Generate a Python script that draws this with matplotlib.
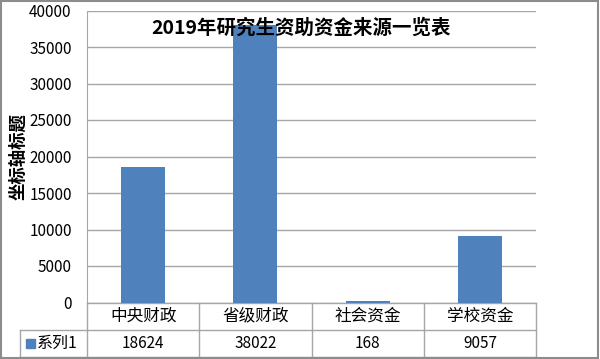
import matplotlib.pyplot as plt
from matplotlib.lines import Line2D
from matplotlib.patches import Rectangle

plt.rcParams['font.family'] = ['Noto Sans CJK SC', 'DejaVu Sans']

# 数据
categories = ['中央财政', '省级财政', '社会资金', '学校资金']
values = [18624, 38022, 168, 9057]
series_name = '系列1'
yticks = [0, 5000, 10000, 15000, 20000, 25000, 30000, 35000, 40000]

bar_color = '#4F81BD'
line_color = '#A6A6A6'

fig = plt.figure(figsize=(6, 3.59), dpi=100)
ax = fig.add_axes([87 / 600, 1 - 302.5 / 359, 449 / 600, 292 / 359])

x = range(len(categories))
ax.bar(x, values, width=0.39, color=bar_color, zorder=3)
ax.set_xlim(-0.5, len(categories) - 0.5)
ax.set_ylim(0, 40000)
ax.set_yticks(yticks)
ax.set_yticklabels([str(t) for t in yticks], fontsize=11)
ax.set_xticks([])
ax.tick_params(axis='y', length=0, pad=11)
ax.yaxis.grid(True, color=line_color, linewidth=1, zorder=0)
for s in ['top', 'right', 'bottom']:
    ax.spines[s].set_visible(False)
ax.spines['left'].set_color(line_color)

# 标题
fig.text(0.502, 1 - 28 / 359, '2019年研究生资助资金来源一览表', ha='center', va='center',
         fontsize=14, fontweight='bold')
# 纵坐标描述
fig.text(18 / 600, 1 - 157 / 359, '坐标轴标题', rotation=90, ha='center', va='center',
         fontsize=12.5, fontweight='bold')

# 数据表
h1 = -27 / 292
h2 = -54 / 292
left = -67 / 449
tr = ax.transAxes
kw = dict(color=line_color, linewidth=1, transform=tr, clip_on=False)
ax.add_line(Line2D([0, 1], [0, 0], **kw))
ax.add_line(Line2D([left, 1], [h1, h1], **kw))
ax.add_line(Line2D([left, 1], [h2, h2], **kw))
ax.add_line(Line2D([left, left], [h1, h2], **kw))
n = len(categories)
for i in range(n + 1):
    ax.add_line(Line2D([i / n, i / n], [0, h2], **kw))
for i, (c, v) in enumerate(zip(categories, values)):
    xc = (i + 0.5) / n
    ax.text(xc, h1 / 2, c, transform=tr, ha='center', va='center', fontsize=12)
    ax.text(xc, (h1 + h2) / 2, str(v), transform=tr, ha='center', va='center', fontsize=11)
ax.add_patch(Rectangle((-61 / 449, (h1 + h2) / 2 - 4.5 / 292), 9 / 449, 9 / 292,
                       transform=tr, color=bar_color, clip_on=False))
ax.text(-50 / 449, (h1 + h2) / 2, series_name, transform=tr, ha='left', va='center', fontsize=11.5)

# 外框
fig.add_artist(Rectangle((0.002, 0.004), 0.994, 0.992, transform=fig.transFigure,
                         fill=False, edgecolor='#8C8C8C', linewidth=1.5))

fig.savefig('out.png', dpi=100)
